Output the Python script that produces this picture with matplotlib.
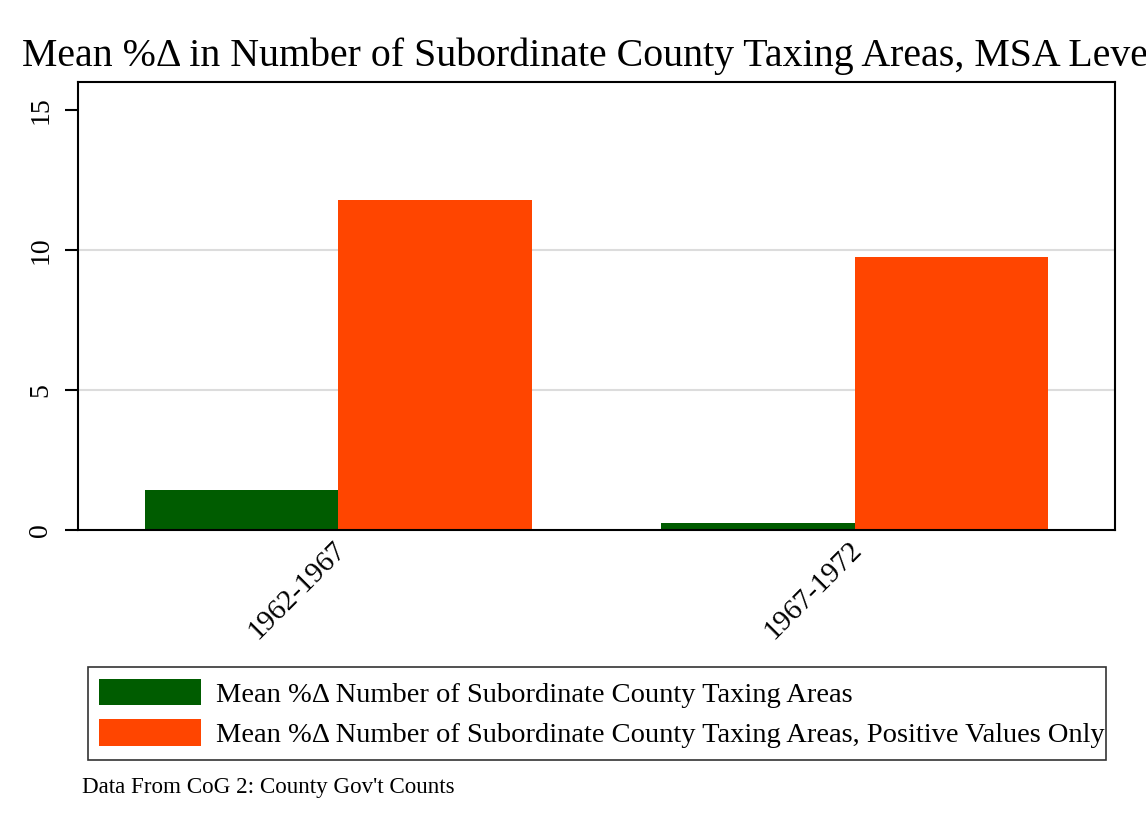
import matplotlib
matplotlib.use("Agg")
import matplotlib.pyplot as plt
import matplotlib.transforms as mtransforms
import numpy as np

periods = ["1962-1967", "1967-1972"]
all_values = [1.43, 0.26]
positive_values = [11.8, 9.75]
series_labels = [
    "Mean %\u0394 Number of Subordinate County Taxing Areas",
    "Mean %\u0394 Number of Subordinate County Taxing Areas, Positive Values Only",
]
yticks = [0, 5, 10, 15]
title = "Mean %\u0394 in Number of Subordinate County Taxing Areas, MSA Level"
note = "Data From CoG 2: County Gov't Counts"

plt.rcParams['font.family'] = ['Liberation Serif', 'DejaVu Serif']

W, H = 1146, 833
fig = plt.figure(figsize=(W / 100, H / 100), dpi=100)
ax = fig.add_axes([78 / W, 1 - 530 / H, (1115 - 78) / W, (530 - 82) / H])

green = "#005c00"
orange = "#ff4500"
centers = np.arange(len(periods)) * 2.672
ax.bar(centers - 0.5, all_values, width=1.0, color=green, label=series_labels[0], zorder=2)
ax.bar(centers + 0.5, positive_values, width=1.0, color=orange, label=series_labels[1], zorder=2)

ax.set_xlim(-1.346, centers[-1] + 1.346)
ax.set_ylim(0, 16)
ax.set_yticks(yticks)
ax.set_yticklabels([str(v) for v in yticks], rotation=90, va='center', fontsize=20)
for v in yticks[1:-1]:
    ax.axhline(v, color="#dcdcdc", lw=1.5, zorder=1)
ax.tick_params(axis='y', length=9.4, width=1.5, pad=8.5)
ax.set_xticks(centers)
ax.set_xticklabels(periods, rotation=45, ha='right', rotation_mode='anchor', fontsize=21)
ax.tick_params(axis='x', length=0, pad=5)
offset = mtransforms.ScaledTranslation(-6 / 100, 0, fig.dpi_scale_trans)
for lab in ax.get_xticklabels():
    lab.set_transform(lab.get_transform() + offset)
for s in ax.spines.values():
    s.set_linewidth(1.5)
    s.set_color('black')
    s.set_zorder(3)

fig.text(22 / W, 1 - 66 / H, title, fontsize=28.7, ha='left', va='baseline')

leg = fig.legend(loc='center', bbox_to_anchor=(88 / W, 1 - 760 / H, (1106 - 88) / W, 93 / H),
                 mode='expand', fontsize=20.5, frameon=True, fancybox=False,
                 edgecolor='black', handlelength=3.58, handleheight=1.05,
                 handletextpad=0.53, borderpad=0.4, labelspacing=0.42, borderaxespad=0)
leg.get_frame().set_linewidth(1.2)

fig.text(82 / W, 1 - 793 / H, note, fontsize=16.6, ha='left', va='baseline')

fig.savefig("out.png", dpi=100)
